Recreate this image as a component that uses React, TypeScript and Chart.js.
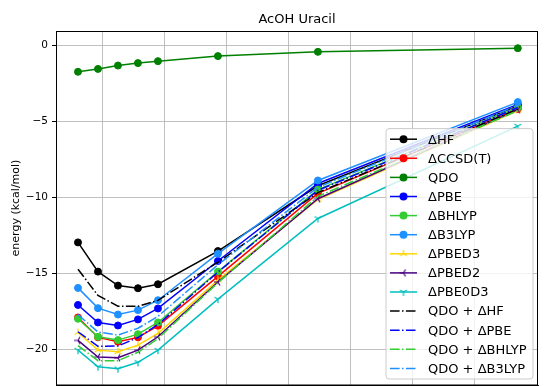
import React, { useEffect, useRef } from 'react';
import { Chart, registerables } from 'chart.js';

Chart.register(...registerables);

const FONT = '"DejaVu Sans", "Liberation Sans", sans-serif';

const xValues = [0.9, 0.95, 1.0, 1.05, 1.1, 1.25, 1.5, 2.0];
const xGridTicks = [0.961, 1.116, 1.271, 1.426, 1.582, 1.737, 1.892];
const yTicks = [0, -5, -10, -15, -20];

const hf = [-12.97, -14.89, -15.81, -15.98, -15.72, -13.54, -9.25, -4.0];
const ccsdt = [-17.9, -19.21, -19.5, -19.21, -18.45, -15.2, -9.75, -4.2];
const qdo = [-1.76, -1.57, -1.35, -1.19, -1.06, -0.73, -0.45, -0.21];
const pbe = [-17.08, -18.23, -18.43, -18.03, -17.31, -14.19, -9.1, -3.9];
const bhlyp = [-17.99, -19.17, -19.39, -19.0, -18.23, -14.89, -9.5, -4.1];
const b3lyp = [-15.96, -17.29, -17.71, -17.42, -16.77, -13.71, -8.9, -3.75];
const pbed3 = [-18.89, -20.05, -20.16, -19.72, -18.95, -15.45, -10.15, -4.3];
const pbed2 = [-19.41, -20.5, -20.55, -20.05, -19.17, -15.57, -10.1, -4.25];
const pbe0d3 = [-20.05, -21.14, -21.27, -20.85, -20.05, -16.7, -11.4, -5.33];
const qdoHf = [-14.73, -16.46, -17.16, -17.17, -16.78, -14.27, -9.7, -4.21];
const qdoPbe = [-18.84, -19.8, -19.78, -19.22, -18.37, -14.92, -9.55, -4.11];
const qdoBhlyp = [-19.75, -20.74, -20.74, -20.19, -19.29, -15.62, -9.95, -4.31];
const qdoB3lyp = [-17.72, -18.86, -19.06, -18.61, -17.83, -14.44, -9.35, -3.96];

type Marker = 'circle' | 'triUp' | 'triLeft' | 'triDown' | 'none';

const seriesDefs: { label: string; data: number[]; color: string; marker: Marker; dashed: boolean }[] = [
  { label: 'ΔHF', data: hf, color: '#000000', marker: 'circle', dashed: false },
  { label: 'ΔCCSD(T)', data: ccsdt, color: '#ff0000', marker: 'circle', dashed: false },
  { label: 'QDO', data: qdo, color: '#008000', marker: 'circle', dashed: false },
  { label: 'ΔPBE', data: pbe, color: '#0000ff', marker: 'circle', dashed: false },
  { label: 'ΔBHLYP', data: bhlyp, color: '#32cd32', marker: 'circle', dashed: false },
  { label: 'ΔB3LYP', data: b3lyp, color: '#1e90ff', marker: 'circle', dashed: false },
  { label: 'ΔPBED3', data: pbed3, color: '#ffd700', marker: 'triUp', dashed: false },
  { label: 'ΔPBED2', data: pbed2, color: '#4b0082', marker: 'triLeft', dashed: false },
  { label: 'ΔPBE0D3', data: pbe0d3, color: '#00bfbf', marker: 'triDown', dashed: false },
  { label: 'QDO + ΔHF', data: qdoHf, color: '#000000', marker: 'none', dashed: true },
  { label: 'QDO + ΔPBE', data: qdoPbe, color: '#0000ff', marker: 'none', dashed: true },
  { label: 'QDO + ΔBHLYP', data: qdoBhlyp, color: '#32cd32', marker: 'none', dashed: true },
  { label: 'QDO + ΔB3LYP', data: qdoB3lyp, color: '#1e90ff', marker: 'none', dashed: true },
];

const DASHDOT = [9.6, 2.4, 1.5, 2.4];

function makeTri(color: string, kind: Marker): HTMLCanvasElement {
  const c = document.createElement('canvas');
  c.width = 10;
  c.height = 10;
  const g = c.getContext('2d')!;
  g.strokeStyle = color;
  g.lineWidth = 1.2;
  const cx = 5, cy = 5, r = 4;
  let angles: number[] = [];
  if (kind === 'triUp') angles = [-90, 30, 150];
  else if (kind === 'triDown') angles = [90, -30, -150];
  else if (kind === 'triLeft') angles = [180, -60, 60];
  g.beginPath();
  for (const a of angles) {
    const rad = (a * Math.PI) / 180;
    g.moveTo(cx, cy);
    g.lineTo(cx + r * Math.cos(rad), cy + r * Math.sin(rad));
  }
  g.stroke();
  return c;
}

const mplPlugin = {
  id: 'mplFrameLegend',
  afterDraw(chart: any) {
    const ctx: CanvasRenderingContext2D = chart.ctx;
    const ca = chart.chartArea;
    ctx.save();
    // frame (spines)
    ctx.strokeStyle = '#000';
    ctx.lineWidth = 1;
    ctx.setLineDash([]);
    ctx.strokeRect(ca.left + 0.5, ca.top + 0.5, ca.right - ca.left - 1, ca.bottom - ca.top - 0.5);

    // legend
    const datasets = chart.data.datasets;
    const n = datasets.length;
    const rowH = 19.1;
    const pad = 10.6;
    const w = 147;
    const h = pad * 2 + (n - 1) * rowH;
    const right = ca.right - 5;
    const bottom = ca.bottom - 6;
    const left = right - w;
    const top = bottom - h;
    const rad = 3;
    ctx.beginPath();
    ctx.moveTo(left + rad, top);
    ctx.lineTo(right - rad, top);
    ctx.quadraticCurveTo(right, top, right, top + rad);
    ctx.lineTo(right, bottom - rad);
    ctx.quadraticCurveTo(right, bottom, right - rad, bottom);
    ctx.lineTo(left + rad, bottom);
    ctx.quadraticCurveTo(left, bottom, left, bottom - rad);
    ctx.lineTo(left, top + rad);
    ctx.quadraticCurveTo(left, top, left + rad, top);
    ctx.closePath();
    ctx.fillStyle = 'rgba(255,255,255,0.8)';
    ctx.fill();
    ctx.strokeStyle = '#cccccc';
    ctx.lineWidth = 1;
    ctx.stroke();

    ctx.font = `13px ${FONT}`;
    ctx.textBaseline = 'middle';
    ctx.textAlign = 'left';
    datasets.forEach((ds: any, i: number) => {
      const y = top + pad + i * rowH;
      const x0 = left + 4;
      const x1 = left + 31;
      const xm = (x0 + x1) / 2;
      ctx.strokeStyle = ds.borderColor;
      ctx.lineWidth = 1.5;
      ctx.setLineDash(ds.borderDash || []);
      ctx.beginPath();
      ctx.moveTo(x0, y);
      ctx.lineTo(x1, y);
      ctx.stroke();
      ctx.setLineDash([]);
      const ps = ds.pointStyle;
      if (ds.pointRadius > 0) {
        if (ps === 'circle') {
          ctx.fillStyle = ds.borderColor;
          ctx.beginPath();
          ctx.arc(xm, y, 4, 0, Math.PI * 2);
          ctx.fill();
        } else if (ps && typeof ps === 'object') {
          ctx.drawImage(ps, xm - ps.width / 2, y - ps.height / 2);
        }
      }
      ctx.fillStyle = '#000';
      ctx.fillText(ds.label, left + 42, y + 1);
    });
    ctx.restore();
  },
};

export default function App() {
  const ref = useRef<HTMLCanvasElement | null>(null);

  useEffect(() => {
    if (!ref.current) return;
    const N = seriesDefs.length;
    const datasets = seriesDefs.map((s, i) => {
      const style: any =
        s.marker === 'circle' ? 'circle' : s.marker === 'none' ? 'circle' : makeTri(s.color, s.marker);
      return {
        label: s.label,
        data: xValues.map((x, k) => ({ x, y: s.data[k] })),
        borderColor: s.color,
        backgroundColor: s.color,
        borderWidth: 1.5,
        borderDash: s.dashed ? DASHDOT : [],
        pointStyle: style,
        pointRadius: s.marker === 'none' ? 0 : s.marker === 'circle' ? 3.5 : 4,
        pointBackgroundColor: s.color,
        pointBorderColor: s.color,
        pointBorderWidth: 1,
        tension: 0,
        order: N - i,
      };
    });

    const chart = new Chart(ref.current, {
      type: 'line',
      data: { datasets },
      plugins: [mplPlugin],
      options: {
        responsive: false,
        animation: false,
        devicePixelRatio: 1,
        layout: { autoPadding: false, padding: { left: 0, right: 8, top: 0, bottom: 0 } },
        plugins: {
          legend: { display: false },
          tooltip: { enabled: false },
          title: {
            display: true,
            fullSize: false,
            text: 'AcOH Uracil',
            color: '#000',
            font: { family: FONT, size: 13, weight: 'normal' },
            padding: { top: 12.2, bottom: 3.2 },
          },
        },
        scales: {
          x: {
            type: 'linear',
            min: 0.845,
            max: 2.0505,
            afterBuildTicks: (s: any) => {
              s.ticks = xGridTicks.map((v) => ({ value: v }));
            },
            afterFit: (s: any) => {
              s.height = 1;
              s.paddingLeft = 0;
              s.paddingRight = 0;
            },
            ticks: { display: false },
            grid: { color: '#b0b0b0', lineWidth: 0.8, drawTicks: false },
            border: { display: true, color: '#000' },
          },
          y: {
            type: 'linear',
            min: -22.34,
            max: 0.92,
            afterBuildTicks: (s: any) => {
              s.ticks = yTicks.map((v) => ({ value: v }));
            },
            afterFit: (s: any) => {
              s.width = 56;
              s.paddingTop = 0;
              s.paddingBottom = 0;
            },
            ticks: {
              color: '#000',
              padding: 4,
              font: { family: FONT, size: 10.5 },
              callback: (v: any) => (v === 0 ? '0' : (v < 0 ? '\u2212' : '') + Math.abs(v)),
            },
            grid: { color: '#b0b0b0', lineWidth: 0.8, tickLength: 4, tickColor: '#000', tickWidth: 1 },
            border: { display: true, color: '#000' },
            title: {
              display: true,
              text: 'energy (kcal/mol)',
              color: '#000',
              font: { family: FONT, size: 11 },
              padding: { top: 9.4, bottom: 0 },
            },
          },
        },
      } as any,
    });
    return () => chart.destroy();
  }, []);

  return (
    <div style={{ position: 'absolute', left: 0, top: 0, width: 546, height: 386 }}>
      <canvas ref={ref} width={546} height={386} style={{ display: 'block' }} />
    </div>
  );
}
